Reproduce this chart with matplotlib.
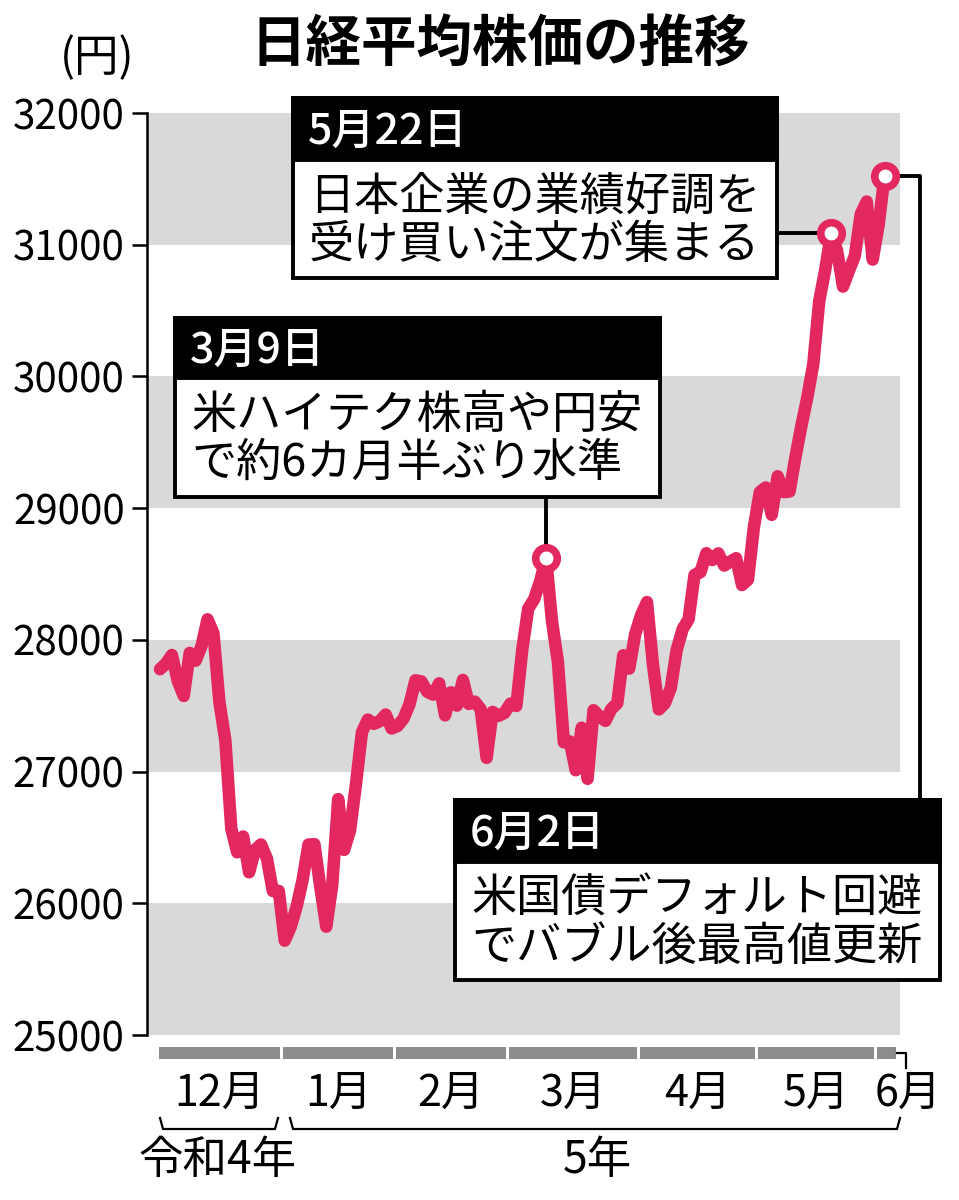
import matplotlib
matplotlib.use("Agg")
import matplotlib.pyplot as plt
from matplotlib.patches import Rectangle
from matplotlib.lines import Line2D

plt.rcParams['font.family'] = ['Noto Sans CJK JP', 'DejaVu Sans']

# Nikkei average closes, trading days Dec 2 2022 - Jun 2 2023
dec = [27777, 27820, 27885, 27686, 27574, 27901, 27842, 27954, 28156, 28051, 27527,
       27237, 26568, 26387, 26507, 26235, 26405, 26447, 26340, 26093, 26094]
jan = [25716, 25820, 25973, 26175, 26446, 26449, 26119, 25822, 26138, 26791, 26405,
       26553, 26906, 27299, 27395, 27362, 27382, 27433, 27327]
feb = [27346, 27402, 27509, 27693, 27685, 27606, 27584, 27670, 27427, 27602, 27501,
       27696, 27513, 27531, 27473, 27104, 27453, 27423, 27445]
mar = [27516, 27498, 27927, 28237, 28309, 28444, 28623, 28143, 27832, 27222, 27229,
       27010, 27333, 26945, 27466, 27419, 27385, 27476, 27518, 27883, 27782, 28041]
apr = [28188, 28287, 27813, 27472, 27518, 27633, 27923, 28082, 28156, 28493, 28514,
       28658, 28606, 28657, 28564, 28593, 28620, 28416, 28457, 28856]
may = [29123, 29157, 28949, 29242, 29122, 29126, 29388, 29626, 29842, 30093, 30573,
       30808, 31086, 30957, 30682, 30801, 30916, 31233, 31328, 30887]
jun = [31148, 31524]

months = [dec, jan, feb, mar, apr, may, jun]
month_labels = ["12月", "1月", "2月", "3月", "4月", "5月", "6月"]
yticks = [25000, 26000, 27000, 28000, 29000, 30000, 31000, 32000]

# highlighted days: (index into series, header, body lines)
events = [
    (65, "3月9日", ["米ハイテク株高や円安", "で約6カ月半ぶり水準"]),
    (113, "5月22日", ["日本企業の業績好調を", "受け買い注文が集まる"]),
    (122, "6月2日", ["米国債デフォルト回避", "でバブル後最高値更新"]),
]

values = [v for m in months for v in m]
xs = list(range(len(values)))

RED = "#e3285f"
GRAY = "#d9d9d9"
BAR = "#8c8c8c"

W, H = 959, 1200
fig = plt.figure(figsize=(W / 100, H / 100), dpi=100)


def fx(px):
    return px / W


def fy(py):
    return 1 - py / H


ax = fig.add_axes([fx(147), fy(1035), fx(900) - fx(147), fy(113) - fy(1035)])
ax.set_xlim(-2.19, 124.6)
ax.set_ylim(25000, 32000)

for lo in [25000, 27000, 29000, 31000]:
    ax.axhspan(lo, lo + 1000, color=GRAY, lw=0, zorder=0)

ax.plot(xs, values, color=RED, lw=9, solid_joinstyle="round",
        solid_capstyle="round", zorder=4)

ax.set_yticks(yticks)
ax.set_yticklabels([str(t) for t in yticks])
ax.tick_params(axis="y", length=11, width=1.8, pad=5, labelsize=29, direction="out")
ax.tick_params(axis="x", bottom=False, labelbottom=False)
for s in ["top", "right", "bottom"]:
    ax.spines[s].set_visible(False)
ax.spines["left"].set_linewidth(1.8)

# title and unit
fig.text(fx(500), fy(45), "日経平均株価の推移", ha="center", va="center",
         fontsize=40, fontweight="bold")
fig.text(fx(97), fy(58), "(円)", ha="center", va="center", fontsize=32)


def to_data(px, py):
    return ax.transData.inverted().transform((px, H - py))


# month bars along the bottom
start = 0
bar_top, bar_bot = 1047, 1059
for i, m in enumerate(months):
    first, last = start, start + len(m) - 1
    x0 = first - 0.25
    x1 = last + 0.25 if i < len(months) - 1 else ax.get_xlim()[1] - 0.6
    y0 = to_data(0, bar_bot)[1]
    y1 = to_data(0, bar_top)[1]
    ax.add_patch(Rectangle((x0, y0), x1 - x0, y1 - y0, color=BAR, lw=0, clip_on=False))
    if i < len(months) - 1:
        ax.text((x0 + x1) / 2, to_data(0, 1094)[1], month_labels[i], ha="center",
                va="center", fontsize=31)
    else:
        ax.text(x0 - 0.5, to_data(0, 1094)[1], month_labels[i], ha="left",
                va="center", fontsize=31)
    start += len(m)

# little hook after the last bar
hook = Line2D([fx(897), fx(906), fx(906)], [fy(1053), fy(1053), fy(1068)],
              transform=fig.transFigure, color="black", lw=1.6)
fig.add_artist(hook)

# year brackets
for (l, r), lab, cx in [((160, 278), "令和4年", 218), ((290, 900), "5年", 597)]:
    br = Line2D([fx(l), fx(l + 3), fx(r - 3), fx(r)],
                [fy(1118), fy(1129), fy(1129), fy(1118)],
                transform=fig.transFigure, color="black", lw=1.6)
    fig.add_artist(br)
    fig.text(fx(cx), fy(1160), lab, ha="center", va="center", fontsize=32)


def box(left, top, right, hdr, bottom, header, lines):
    ax.add_patch(Rectangle((fx(left), fy(bottom)), fx(right) - fx(left),
                           fy(top) - fy(bottom), transform=fig.transFigure,
                           facecolor="white", edgecolor="black", lw=2.8,
                           clip_on=False, zorder=6))
    ax.add_patch(Rectangle((fx(left), fy(hdr)), fx(right) - fx(left),
                           fy(top) - fy(hdr), transform=fig.transFigure,
                           facecolor="black", edgecolor="black", lw=2.8,
                           clip_on=False, zorder=7))
    ax.text(fx(left + 15), fy((top + hdr) / 2 + 2), header, transform=fig.transFigure,
            color="white", fontsize=31, fontweight="medium", ha="left",
            va="center", zorder=8)
    for k, ln in enumerate(lines):
        ax.text(fx(left + 16), fy(hdr + 37 + k * 48), ln, transform=fig.transFigure,
                color="black", fontsize=32.5, ha="left", va="center", zorder=8)


# Mar 9
i, head, body = events[0]
box(175, 318, 660, 378, 497, head, body)
ax.plot([i, i], [values[i], to_data(0, 497)[1]], color="black", lw=2.8,
        zorder=3, clip_on=False)

# May 22
i, head, body = events[1]
box(293, 98, 777, 160, 278, head, body)
ax.plot([to_data(777, 0)[0], i], [values[i], values[i]], color="black", lw=2.8,
        zorder=3, clip_on=False)

# Jun 2
i, head, body = events[2]
box(455, 800, 940, 862, 980, head, body)
xr = to_data(920, 0)[0]
ax.plot([i, xr, xr], [values[i], values[i], to_data(0, 800)[1]], color="black",
        lw=2.8, zorder=3, clip_on=False)

for i, _, _ in events:
    ax.plot(i, values[i], "o", ms=15.5, mfc="white", mec=RED, mew=5.5, zorder=9,
            clip_on=False)

fig.savefig("out.png", dpi=100)
